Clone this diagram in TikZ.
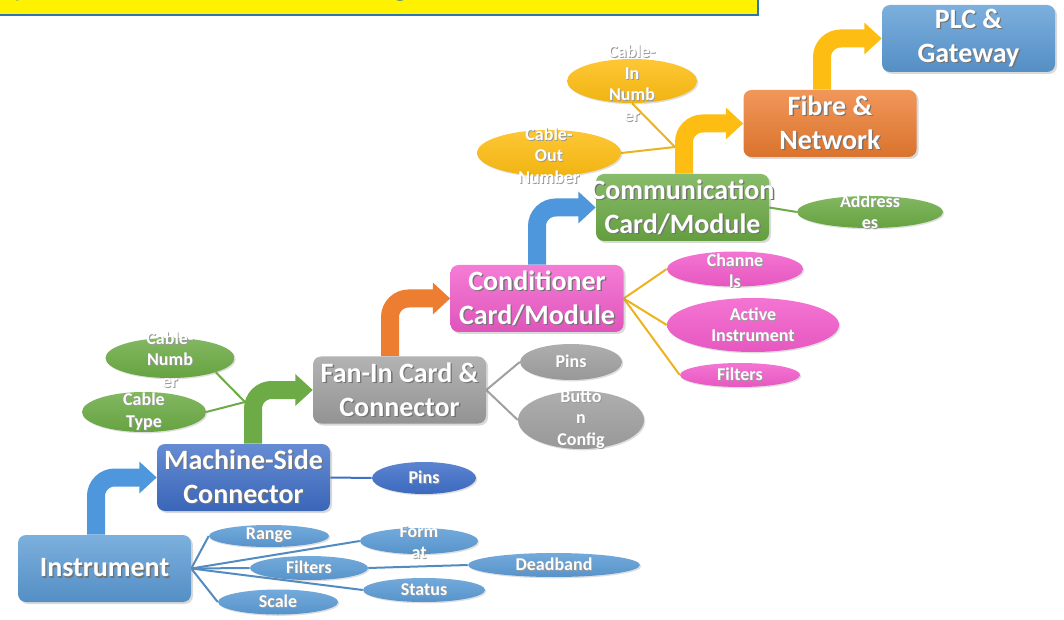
\documentclass[tikz,border=0pt]{standalone}
\usepackage{fontspec}
\newfontfamily\carl{Carlito}
\usetikzlibrary{shapes.geometric,arrows.meta,calc,shadows}

% palette
\definecolor{cBlue}{HTML}{5B9BD5}
\definecolor{cNavy}{HTML}{3F6FC8}
\definecolor{cGray}{HTML}{A0A0A0}
\definecolor{cPink}{HTML}{F25CCB}
\definecolor{cGreen}{HTML}{6CAB45}
\definecolor{cOrange}{HTML}{ED7D31}
\definecolor{cGold}{HTML}{FDBD12}
\definecolor{lGold}{HTML}{EDB21F}
\definecolor{aBlue}{HTML}{4E97DC}
\definecolor{tBlue}{HTML}{0563C1}
\definecolor{bLine}{HTML}{2E75B6}

\pgfdeclarelayer{under}
\pgfsetlayers{under,main}

% white lettering with a soft dark offset copy behind it
\newcommand\shl[1]{\leavevmode\rlap{\kern1pt\raisebox{-1pt}{\textcolor{black!55}{#1}}}#1}
\newcommand\shs[1]{\leavevmode\rlap{\kern0.7pt\raisebox{-0.7pt}{\textcolor{black!40}{#1}}}#1}

\tikzset{
  box/.style={rectangle, rounded corners=6pt, minimum width=129.75pt,
    minimum height=50.25pt, inner sep=0pt,
    top color=#1!80!white, bottom color=#1!92!black,
    drop shadow={opacity=0.3, shadow xshift=1.5pt, shadow yshift=-1.5pt}},
  ov/.style n args={3}{ellipse, inner sep=0pt,
    minimum width=0.75pt*#1, minimum height=0.75pt*#2,
    top color=#3!85!white, bottom color=#3!95!black,
    drop shadow={opacity=0.25, shadow xshift=1pt, shadow yshift=-1pt}},
  btxt/.style={text=white, align=center, inner sep=0pt,
    font=\carl\bfseries\fontsize{21}{25.5}\selectfont},
  etxt/.style={text=white, align=center, inner sep=0pt,
    font=\carl\bfseries\fontsize{13.5}{16}\selectfont},
  lnk/.style={draw=#1, line width=1.5pt},
  bent/.style={draw=#1, line width=13.5pt, rounded corners=14pt,
    -{Triangle[width=23pt,length=13pt]}},
}

\begin{document}
\begin{tikzpicture}[x=0.75pt, y=-0.75pt]
\useasboundingbox (0,0) rectangle (1064,620);

% title banner
\path[fill=yellow] (-4,-4) rectangle (758,15);
\begin{scope}
  \clip (-4,-4) rectangle (758,15);
  \node[anchor=base west, inner sep=0pt, text=tBlue,
        font=\carl\fontsize{24.5}{28}\selectfont] (title) at (-12,-4)
        {Input to PLC: Instrument Wiring};
\end{scope}
\draw[bLine, line width=1.5pt] (-4,-4) rectangle (758,15);

% main stages
\node[box=cBlue]   (instr) at (104.5,568.5) {};
\node[box=cNavy]   (msc)   at (243.5,477.5) {};
\node[box=cGray]   (fanin) at (399.5,390) {};
\node[box=cPink]   (cond)  at (537,298.5) {};
\node[box=cGreen]  (comm)  at (682.5,207.5) {};
\node[box=cOrange] (fibre) at (830,123.5) {};
\node[box=cBlue]   (plc)   at (968.5,38.5) {};

% detail ovals (full width and height)
\node[ov={120}{22}{cBlue}]  (range)  at (269,536) {};
\node[ov={118}{24}{cBlue}]  (filt)   at (309,568) {};
\node[ov={120}{25}{cBlue}]  (scale)  at (278,602) {};
\node[ov={118}{26}{cBlue}]  (format) at (419,541) {};
\node[ov={172}{24}{cBlue}]  (dead)   at (554,565) {};
\node[ov={122}{24}{cBlue}]  (status) at (424,590) {};
\node[ov={104}{32}{cNavy}]  (mpins)  at (424,478) {};
\node[ov={129}{40}{cGreen}] (cnum)   at (170,358) {};
\node[ov={124}{40}{cGreen}] (ctype)  at (144,412) {};
\node[ov={102}{36}{cGray}]  (fpins)  at (571,362) {};
\node[ov={126}{58}{cGray}]  (button) at (581,420) {};
\node[ov={136}{35}{cPink}]  (chan)   at (735,269) {};
\node[ov={172}{54}{cPink}]  (active) at (753,325) {};
\node[ov={120}{24}{cPink}]  (cfilt)  at (740,375) {};
\node[ov={130}{44}{cGold}]  (cin)    at (632,81) {};
\node[ov={144}{46}{cGold}]  (cout)   at (549,153) {};
\node[ov={146}{32}{cGreen}] (addr)   at (870,212) {};

% junction points on the arrow stems
\coordinate (cj)  at (245,402);
\coordinate (cj2) at (675,147);

\begin{pgfonlayer}{under}
% connectors
\draw[lnk=cBlue!90!black] (instr.east) -- (range.west);
\draw[lnk=cBlue!90!black] (instr.east) -- (format.west);
\draw[lnk=cBlue!90!black] (instr.east) -- (filt.west);
\draw[lnk=cBlue!90!black] (instr.east) -- (status.west);
\draw[lnk=cBlue!90!black] (instr.east) -- (scale.west);
\draw[lnk=cBlue!90!black] (filt.east) -- (dead.west);
\draw[lnk=cNavy] (msc.east) -- (mpins.west);
\draw[lnk=cGreen] (cnum.south east) -- (cj);
\draw[lnk=cGreen] (ctype.east) -- (cj);
\draw[lnk=cGray] (fanin.east) -- (fpins.west);
\draw[lnk=cGray] (fanin.east) -- (button.west);
\draw[lnk=lGold] (cond.east) -- (chan.west);
\draw[lnk=lGold] (cond.east) -- (active.west);
\draw[lnk=lGold] (cond.east) -- (cfilt.west);
\draw[lnk=lGold] (cin.south) -- (cj2);
\draw[lnk=lGold] (cout.east) -- (cj2);
\draw[lnk=cGreen] (comm.east) -- (addr.west);

% bent arrows between stages
\draw[bent=aBlue]   ($(instr.north)+(-8.5,0)$) |- (msc.west);
\draw[bent=cGreen]  ($(msc.north)+(9.5,0)$)    |- (fanin.west);
\draw[bent=cOrange] ($(fanin.north)+(-9.5,0)$) |- (cond.west);
\draw[bent=aBlue]   (cond.north)               |- (comm.west);
\draw[bent=cGold]   ($(comm.north)+(1.5,0)$)   |- (fibre.west);
\draw[bent=cGold]   ($(fibre.north)+(-8,0)$)   |- (plc.west);
\end{pgfonlayer}

% stage labels
\node[btxt] (instrT) at (instr) {\shl{Instrument}};
\node[btxt] (mscT)   at (msc)   {\shl{Machine-Side}\\\shl{Connector}};
\node[btxt] (faninT) at (fanin) {\shl{Fan-In Card \&}\\\shl{Connector}};
\node[btxt] (condT)  at (cond)  {\shl{Conditioner}\\\shl{Card/Module}};
\node[btxt] (commT)  at (comm)  {\shl{Communication}\\\shl{Card/Module}};
\node[btxt] (fibreT) at (fibre) {\shl{Fibre \&}\\\shl{Network}};
\node[btxt] (plcT)   at (plc)   {\shl{PLC \&}\\\shl{Gateway}};

% oval labels
\node[etxt] (rangeT)  at (range)  {\shs{Range}};
\node[etxt] (filtT)   at (filt)   {\shs{Filters}};
\node[etxt] (scaleT)  at (scale)  {\shs{Scale}};
\node[etxt] (formatT) at ($(format)+(0,1.5)$) {\shs{Form}\\\shs{at}};
\node[etxt] (deadT)   at (dead)   {\shs{Deadband}};
\node[etxt] (statusT) at (status) {\shs{Status}};
\node[etxt] (mpinsT)  at (mpins)  {\shs{Pins}};
\node[etxt] (cnumT)   at ($(cnum)+(0,2)$) {\shs{Cable-}\\\shs{Numb}\\\shs{er}};
\node[etxt] (ctypeT)  at (ctype)  {\shs{Cable}\\\shs{Type}};
\node[etxt] (fpinsT)  at (fpins)  {\shs{Pins}};
\node[etxt] (buttonT) at (button) {\shs{Butto}\\\shs{n}\\\shs{Config}};
\node[etxt] (chanT)   at ($(chan)+(0,2)$) {\shs{Channe}\\\shs{ls}};
\node[etxt] (activeT) at (active) {\shs{Active}\\\shs{Instrument}};
\node[etxt] (cfiltT)  at (cfilt)  {\shs{Filters}};
\node[etxt] (cinT)    at ($(cin)+(0,3)$)  {\shs{Cable-}\\\shs{In}\\\shs{Numb}\\\shs{er}};
\node[etxt] (coutT)   at ($(cout)+(0,3)$) {\shs{Cable-}\\\shs{Out}\\\shs{Number}};
\node[etxt] (addrT)   at (addr)   {\shs{Address}\\\shs{es}};
\end{tikzpicture}
\end{document}
